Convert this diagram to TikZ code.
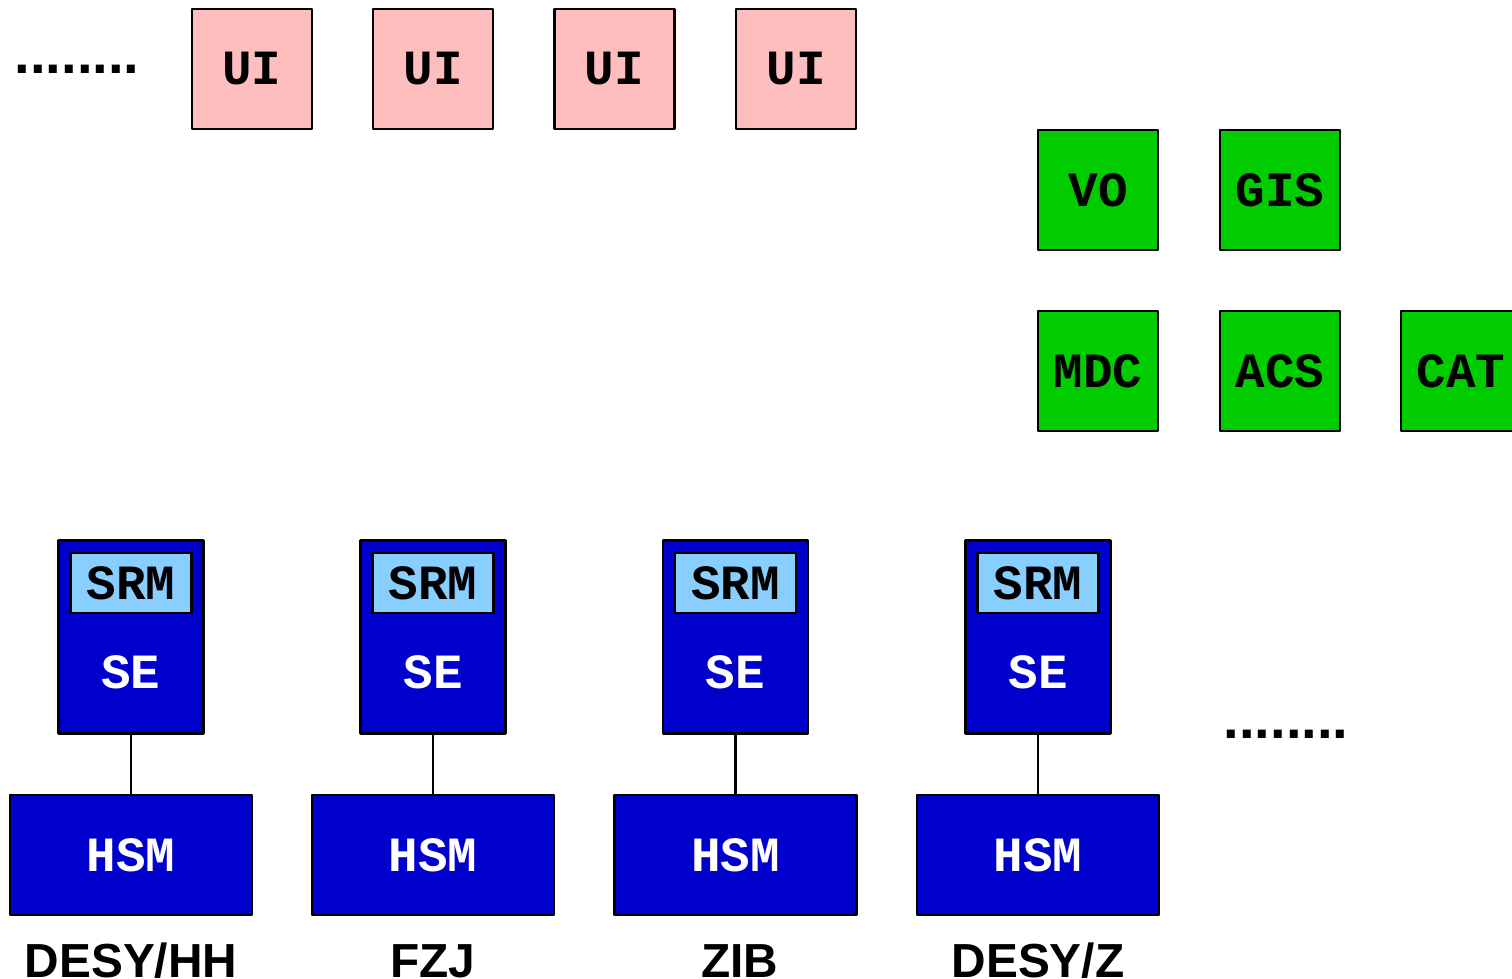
\documentclass[tikz,border=0pt]{standalone}
\usepackage{fontspec}
\setmainfont{Liberation Sans}
\setmonofont{Liberation Mono}
\usepackage{tikz}
\definecolor{rosa}{RGB}{255,190,190}
\definecolor{verde}{RGB}{0,204,0}
\definecolor{azul}{RGB}{0,0,204}
\definecolor{celeste}{RGB}{136,206,255}
\tikzstyle{every path}=[line width=0.6pt, line cap=round, line join=round]
\tikzstyle{caja}=[draw=black, rectangle, inner sep=0pt, font=\fontsize{14}{14}\selectfont\ttfamily\bfseries]
\tikzstyle{ui}=[caja, fill=rosa, minimum width=1.2cm, minimum height=1.2cm]
\tikzstyle{serv}=[caja, fill=verde, minimum width=1.2cm, minimum height=1.2cm]
\tikzstyle{se}=[caja, fill=azul, minimum width=1.45cm, minimum height=1.93cm]
\tikzstyle{srm}=[caja, fill=celeste, minimum width=1.21cm, minimum height=0.6cm]
\tikzstyle{hsm}=[caja, fill=azul, text=white, minimum width=2.42cm, minimum height=1.2cm]
\tikzstyle{setxt}=[inner sep=0pt, text=white, font=\fontsize{14}{14}\selectfont\ttfamily\bfseries]
\tikzstyle{sitio}=[inner sep=0pt, anchor=base, font=\fontsize{13.6}{13.6}\selectfont\bfseries]
\tikzstyle{puntos}=[inner sep=0pt, font=\fontsize{16}{16}\selectfont\bfseries]

\begin{document}
\begin{tikzpicture}
          \useasboundingbox (0,0) rectangle (15.12,-9.79);
          %interfaces de usuario
          \node[puntos] (dotsui) at (0.77,-0.69) {........};
          \node[ui] (ui1) at (2.52,-0.69) {UI};
          \node[ui] (ui2) at (4.33,-0.69) {UI};
          \node[ui] (ui3) at (6.145,-0.69) {UI};
          \node[ui] (ui4) at (7.96,-0.69) {UI};
          %servicios
          \node[serv] (vo) at (10.98,-1.90) {VO};
          \node[serv] (gis) at (12.80,-1.90) {GIS};
          \node[serv] (mdc) at (10.98,-3.71) {MDC};
          \node[serv] (acs) at (12.80,-3.71) {ACS};
          \node[serv] (cat) at (14.61,-3.71) {CAT};
          %storage elements
          \node[se] (se1) at (1.31,-6.37) {};
          \node[se] (se2) at (4.33,-6.37) {};
          \node[se] (se3) at (7.355,-6.37) {};
          \node[se] (se4) at (10.38,-6.37) {};
          \node[srm] (srm1) at (1.31,-5.83) {SRM};
          \node[srm] (srm2) at (4.33,-5.83) {SRM};
          \node[srm] (srm3) at (7.355,-5.83) {SRM};
          \node[srm] (srm4) at (10.38,-5.83) {SRM};
          \node[setxt] (set1) at (1.31,-6.72) {SE};
          \node[setxt] (set2) at (4.33,-6.72) {SE};
          \node[setxt] (set3) at (7.355,-6.72) {SE};
          \node[setxt] (set4) at (10.38,-6.72) {SE};
          \node[puntos] (dotsse) at (12.86,-7.34) {........};
          %hsm
          \node[hsm] (hsm1) at (1.31,-8.55) {HSM};
          \node[hsm] (hsm2) at (4.33,-8.55) {HSM};
          \node[hsm] (hsm3) at (7.355,-8.55) {HSM};
          \node[hsm] (hsm4) at (10.38,-8.55) {HSM};
          \draw (se1) -- (hsm1);
          \draw (se2) -- (hsm2);
          \draw (se3) -- (hsm3);
          \draw (se4) -- (hsm4);
          %sitios
          \node[sitio] (desyhh) at (1.31,-9.77) {DESY/HH};
          \node[sitio] (fzj) at (4.33,-9.77) {FZJ};
          \node[sitio] (zib) at (7.40,-9.77) {ZIB};
          \node[sitio] (desyz) at (10.38,-9.77) {DESY/Z};
        \end{tikzpicture}
\end{document}
